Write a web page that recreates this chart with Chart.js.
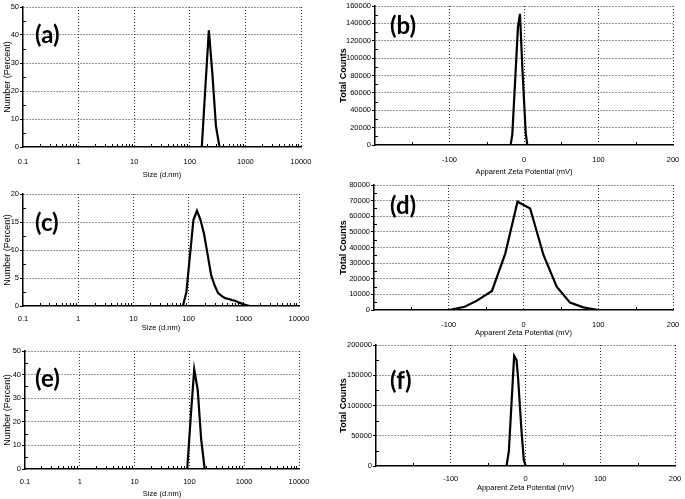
<!DOCTYPE html>
<html lang="en">
<head>
    <meta charset="UTF-8">
    <title>Size distribution and zeta potential</title>
    <script src="https://cdn.jsdelivr.net/npm/chart.js"></script>
    <style>
        body { margin: 0; background: #fff; }
        #wrap { position: relative; width: 685px; height: 499px; overflow: hidden; background: #fff; }
        #wrap canvas { position: absolute; }
        .tag {
            position: absolute;
            font: bold 24px Lato, 'Liberation Sans', sans-serif;
            line-height: 22px;
            color: #000;
            z-index: 5;
        }
    </style>
</head>
<body>
<div id="wrap">
    <canvas id="chartA"></canvas>
    <canvas id="chartB"></canvas>
    <canvas id="chartC"></canvas>
    <canvas id="chartD"></canvas>
    <canvas id="chartE"></canvas>
    <canvas id="chartF"></canvas>
    <div class="tag" style="left:35px; top:23px">(a)</div>
    <div class="tag" style="left:390px; top:14px">(b)</div>
    <div class="tag" style="left:35px; top:211px">(c)</div>
    <div class="tag" style="left:390px; top:194px">(d)</div>
    <div class="tag" style="left:35px; top:367px">(e)</div>
    <div class="tag" style="left:390px; top:369px">(f)</div>
</div>

<script>
    // size distributions, number %
    const sizeA = [0.4, 164.2, 190.1, 220.2, 255.0, 295.3, 342.0, 10000];
    const numberA = [0, 0, 21, 41.7, 26, 7.5, 0, 0];

    const sizeC = [0.4, 78.82, 91.28, 105.7, 122.4, 141.8, 164.2, 190.1, 220.2, 255.0, 295.3,
        342.0, 396.1, 458.7, 531.2, 615.1, 712.4, 825.0, 955.4, 1106, 1281, 10000];
    const numberC = [0, 0, 2.5, 9, 15.4, 17.0, 15.4, 12.9, 9.3, 5.6, 3.7,
        2.3, 1.8, 1.4, 1.25, 1.05, 0.9, 0.6, 0.4, 0.15, 0, 0];

    const sizeE = [0.4, 91.28, 105.7, 122.4, 141.8, 164.2, 190.1, 10000];
    const numberE = [0, 0, 22, 42.2, 33.5, 12.4, 0, 0];

    // zeta potential distributions, total counts
    const zetaB = [-150, -18, -15.7, -8.1, -5.4, -2.3, 2.3, 4.4, 150];
    const countsB = [0, 0, 12000, 136000, 151000, 90000, 14000, 0, 0];

    const zetaD = [-150, -100, -78.7, -62.2, -42.2, -24.4, -8, 8.9, 26.7, 44.4, 62.2, 80, 100, 150];
    const countsD = [0, 0, 2100, 6000, 12200, 36100, 69300, 65000, 35200, 14900, 4700, 1700, 0, 0];

    const zetaF = [-150, -25.4, -22.3, -15.2, -12.0, -9.9, -5.3, -2.3, 0.4, 150];
    const countsF = [0, 0, 24000, 182000, 175000, 145000, 57000, 10000, 0, 0];

    // axes
    const sizeTicks = [0.1, 1, 10, 100, 1000, 10000];
    const sizeTickLabels = ['0.1', '1', '10', '100', '1000', '10000'];
    const zetaTicks = [-200, -100, 0, 100, 200];
    const zetaTickLabels = ['', '-100', '0', '100', '200'];
    const zetaMinor = [-150, -50, 50, 150];

    const percentTicks50 = [0, 10, 20, 30, 40, 50];
    const percentTicks20 = [0, 5, 10, 15, 20];
    const countTicksB = [0, 20000, 40000, 60000, 80000, 100000, 120000, 140000, 160000];
    const countTicksD = [0, 10000, 20000, 30000, 40000, 50000, 60000, 70000, 80000];
    const countTicksF = [0, 50000, 100000, 150000, 200000];

    const FONT = "'Liberation Sans', Arial, sans-serif";
    Chart.defaults.font.family = FONT;
    Chart.defaults.font.size = 7.5;
    Chart.defaults.color = '#000';

    // 2..9 marks inside each decade of the log axis
    function logMinor(ticks) {
        const out = [];
        for (let i = 0; i < ticks.length - 1; i++) {
            for (let m = 2; m <= 9; m++) out.push(ticks[i] * m);
        }
        return out;
    }

    function halfSteps(ticks) {
        const out = [];
        for (let i = 0; i < ticks.length - 1; i++) out.push((ticks[i] + ticks[i + 1]) / 2);
        return out;
    }

    // small inside tick marks
    const minorTicks = {
        id: 'minorTicks',
        afterDatasetsDraw(chart, args, opts) {
            const { ctx, chartArea, scales } = chart;
            ctx.save();
            ctx.strokeStyle = '#000';
            ctx.lineWidth = 1;
            ctx.beginPath();
            (opts.x || []).forEach(v => {
                const px = Math.round(scales.x.getPixelForValue(v)) + 0.5;
                ctx.moveTo(px, chartArea.bottom);
                ctx.lineTo(px, chartArea.bottom - 3);
            });
            (opts.y || []).forEach(v => {
                const py = Math.round(scales.y.getPixelForValue(v)) + 0.5;
                ctx.moveTo(chartArea.left, py);
                ctx.lineTo(chartArea.left + 3, py);
            });
            ctx.stroke();
            ctx.restore();
        }
    };

    function makePanel(id, p) {
        const [l, t, r, b] = p.plot;
        const padT = 8;
        const padL = l - p.canvasLeft;
        const padB = Math.round(p.titleOff + 5.5);
        const canvas = document.getElementById(id);
        const w = padL + (r - l) + p.padR;
        const h = padT + (b - t) + padB;
        canvas.width = w;
        canvas.height = h;
        canvas.style.left = p.canvasLeft + 'px';
        canvas.style.top = (t - padT) + 'px';
        canvas.style.width = w + 'px';
        canvas.style.height = h + 'px';

        const points = p.xs.map((x, i) => ({ x: x, y: p.ys[i] }));

        new Chart(canvas, {
            type: 'line',
            data: { datasets: [{ data: points, borderColor: '#000', borderWidth: 2.2, pointRadius: 0, tension: 0 }] },
            plugins: [minorTicks],
            options: {
                responsive: false,
                animation: false,
                layout: { padding: { left: 0, top: padT, right: p.padR, bottom: 0 } },
                plugins: {
                    legend: { display: false },
                    tooltip: { enabled: false },
                    minorTicks: { x: p.xMinor, y: halfSteps(p.yTicks) }
                },
                scales: {
                    x: {
                        type: p.xType,
                        min: p.xTicks[0],
                        max: p.xTicks[p.xTicks.length - 1],
                        afterBuildTicks: s => { s.ticks = p.xTicks.map(v => ({ value: v })); },
                        afterFit: s => { s.height = padB; s.paddingLeft = 0; s.paddingRight = 0; },
                        ticks: {
                            autoSkip: false, maxRotation: 0, padding: p.tickOff - 5.5,
                            callback: (v, i) => p.xLabels[i]
                        },
                        grid: {
                            color: c => c.index === 0 ? 'rgba(0,0,0,0)' : '#333',
                            tickColor: 'rgba(0,0,0,0)', tickLength: 3
                        },
                        border: { color: '#000', width: 1.5, dash: [1, 2] },
                        title: {
                            display: true, text: p.xTitle, padding: 0,
                            font: { size: 7.5 }
                        }
                    },
                    y: {
                        min: 0,
                        max: p.yTicks[p.yTicks.length - 1],
                        afterBuildTicks: s => { s.ticks = p.yTicks.map(v => ({ value: v })); },
                        afterFit: s => { s.width = padL; s.paddingTop = 0; s.paddingBottom = 0; },
                        ticks: { padding: 1, callback: v => String(v) },
                        grid: {
                            color: c => c.index === 0 ? 'rgba(0,0,0,0)' : '#333',
                            tickColor: '#000', tickLength: 3
                        },
                        border: { color: '#000', width: 1.5, dash: [1, 2] },
                        title: {
                            display: true, text: p.yTitle, padding: { top: p.yTitlePad, bottom: 0 },
                            font: { size: 9, weight: p.yBold ? 'bold' : 'normal' }
                        }
                    }
                }
            }
        });
    }

    const sizeAxis = {
        xType: 'logarithmic', xTicks: sizeTicks, xLabels: sizeTickLabels, xMinor: logMinor(sizeTicks),
        xTitle: 'Size (d.nm)', yTitle: 'Number (Percent)', yBold: false, yTitlePad: 2, canvasLeft: 0, padR: 25
    };
    const zetaAxis = {
        xType: 'linear', xTicks: zetaTicks, xLabels: zetaTickLabels, xMinor: zetaMinor,
        xTitle: 'Apparent Zeta Potential (mV)', yTitle: 'Total Counts', yBold: true, yTitlePad: 0, canvasLeft: 338, padR: 12
    };

    makePanel('chartA', Object.assign({}, sizeAxis, {
        plot: [23, 7, 301, 147], xs: sizeA, ys: numberA, yTicks: percentTicks50, tickOff: 12.5, titleOff: 26
    }));
    makePanel('chartC', Object.assign({}, sizeAxis, {
        plot: [23, 194, 299, 306], xs: sizeC, ys: numberC, yTicks: percentTicks20, tickOff: 10.7, titleOff: 20.5
    }));
    makePanel('chartE', Object.assign({}, sizeAxis, {
        plot: [25, 351, 299, 469], xs: sizeE, ys: numberE, yTicks: percentTicks50, tickOff: 11.4, titleOff: 23.5
    }));
    makePanel('chartB', Object.assign({}, zetaAxis, {
        plot: [375, 6, 673, 145], xs: zetaB, ys: countsB, yTicks: countTicksB, tickOff: 13.3, titleOff: 25
    }));
    makePanel('chartD', Object.assign({}, zetaAxis, {
        plot: [374, 185, 673, 310], xs: zetaD, ys: countsD, yTicks: countTicksD, tickOff: 13.3, titleOff: 21
    }));
    makePanel('chartF', Object.assign({}, zetaAxis, {
        plot: [376, 345, 675, 466], xs: zetaF, ys: countsF, yTicks: countTicksF, tickOff: 10.7, titleOff: 20.7
    }));
</script>
</body>
</html>
